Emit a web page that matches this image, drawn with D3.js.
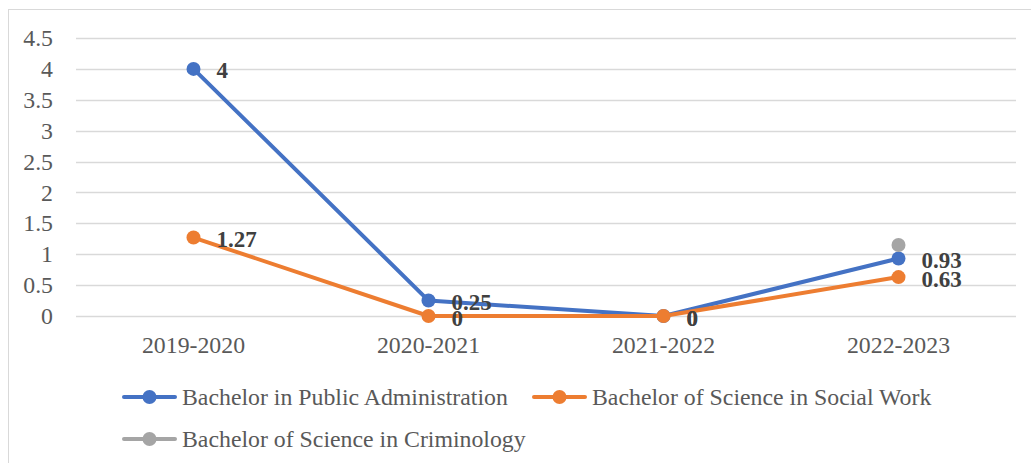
<!DOCTYPE html>
<html>
<head>
<meta charset="utf-8">
<script src="https://cdn.jsdelivr.net/npm/d3@7/dist/d3.min.js"></script>
<style>
  html, body { margin: 0; padding: 0; background: #fff; }
  svg { display: block; }
</style>
</head>
<body>
<svg id="chart" width="1031" height="463"></svg>
<script>
// Academic years on the category axis
const years = ["2019-2020", "2020-2021", "2021-2022", "2022-2023"];

// Series values per year (null = no value recorded)
const publicAdmin = [4, 0.25, 0, 0.93];
const socialWork = [1.27, 0, 0, 0.63];
const criminology = [null, null, null, 1.15];

// Value-axis tick labels
const yTicks = [0, 0.5, 1, 1.5, 2, 2.5, 3, 3.5, 4, 4.5];

const series = [
  { name: "Bachelor in Public Administration", values: publicAdmin, color: "#4472C4", labels: true },
  { name: "Bachelor of Science in Social Work", values: socialWork, color: "#ED7D31", labels: true },
  { name: "Bachelor of Science in Criminology", values: criminology, color: "#A5A5A5", labels: false }
];

const svg = d3.select("#chart");
const font = "'Liberation Serif', 'Times New Roman', serif";
const textSize = 23.8;

// Outer chart frame
svg.append("rect")
  .attr("x", 8.5).attr("y", 9.5)
  .attr("width", 1040).attr("height", 470)
  .attr("fill", "none").attr("stroke", "#D9D9D9").attr("stroke-width", 1);

const plot = { left: 76, right: 1016, top: 38, bottom: 316 };

const x = d3.scaleBand().domain(years).range([plot.left, plot.right]);
const y = d3.scaleLinear().domain([0, 4.5]).range([plot.bottom, plot.top]);
const cx = d => x(d) + x.bandwidth() / 2;

// Horizontal gridlines
svg.append("g").selectAll("line").data(yTicks).join("line")
  .attr("x1", plot.left).attr("x2", plot.right)
  .attr("y1", d => Math.round(y(d)) + 0.5).attr("y2", d => Math.round(y(d)) + 0.5)
  .attr("stroke", "#D9D9D9").attr("stroke-width", 1.3);

// Value-axis labels
const yAxis = d3.axisLeft(y).tickValues(yTicks).tickSize(0).tickPadding(0)
  .tickFormat(d => String(d));
const gy = svg.append("g").attr("transform", `translate(${plot.left - 23},0)`).call(yAxis);
gy.select(".domain").remove();
gy.selectAll("text")
  .attr("font-family", font).attr("font-size", textSize).attr("fill", "#595959");

// Category-axis labels
const xAxis = d3.axisBottom(x).tickSize(0).tickPadding(0);
const gx = svg.append("g").attr("transform", `translate(0,${plot.bottom + 20})`).call(xAxis);
gx.select(".domain").remove();
gx.selectAll("text")
  .attr("font-family", font).attr("font-size", textSize).attr("fill", "#595959");

// Lines and markers
const line = d3.line()
  .defined(d => d.v !== null)
  .x(d => cx(d.year))
  .y(d => y(d.v));

series.forEach(s => {
  const pts = years.map((yr, i) => ({ year: yr, v: s.values[i] }));
  svg.append("path").datum(pts)
    .attr("d", line)
    .attr("fill", "none").attr("stroke", s.color)
    .attr("stroke-width", 4).attr("stroke-linejoin", "round").attr("stroke-linecap", "round");
  svg.append("g").selectAll("circle").data(pts.filter(p => p.v !== null)).join("circle")
    .attr("cx", p => cx(p.year)).attr("cy", p => y(p.v)).attr("r", 7)
    .attr("fill", s.color);
});

// Data labels, placed to the right of each marker
series.filter(s => s.labels).forEach(s => {
  const pts = years.map((yr, i) => ({ year: yr, v: s.values[i] })).filter(p => p.v !== null);
  svg.append("g").selectAll("text").data(pts).join("text")
    .attr("x", p => cx(p.year) + 23)
    .attr("y", p => y(p.v) + 1.5)
    .attr("dy", "0.35em")
    .attr("font-family", font).attr("font-size", 23).attr("font-weight", "bold")
    .attr("fill", "#404040")
    .text(p => String(p.v));
});

// Legend
const legendItems = [
  { s: series[0], x: 122, y: 397 },
  { s: series[1], x: 532, y: 397 },
  { s: series[2], x: 122, y: 439 }
];
const lg = svg.append("g");
legendItems.forEach(it => {
  const g = lg.append("g").attr("transform", `translate(${it.x},${it.y})`);
  g.append("line").attr("x1", 2).attr("x2", 53).attr("y1", 0).attr("y2", 0)
    .attr("stroke", it.s.color).attr("stroke-width", 4).attr("stroke-linecap", "round");
  g.append("circle").attr("cx", 27.5).attr("cy", 0).attr("r", 7).attr("fill", it.s.color);
  g.append("text").attr("x", 60).attr("y", 0).attr("dy", "0.35em")
    .attr("font-family", font).attr("font-size", textSize).attr("fill", "#595959")
    .text(it.s.name);
});
</script>
</body>
</html>
